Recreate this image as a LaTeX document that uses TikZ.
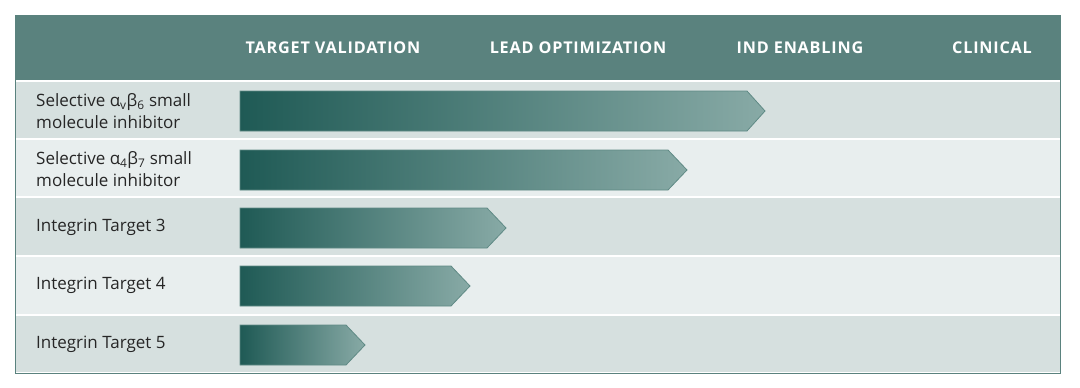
\documentclass[tikz,border=0pt]{standalone}
\usepackage{fontspec}
\setmainfont{Open Sans}
\newfontfamily\headfont{Open Sans}[UprightFont=* Bold,LetterSpace=5]
\begin{document}
\begin{tikzpicture}[x=1pt,y=-1pt,
  rowA/.style={fill=rowdark,draw=none},
  rowB/.style={fill=rowlight,draw=none},
  lbl/.style={anchor=west,align=left,font=\fontsize{17}{22}\selectfont,text=black!85,inner sep=0pt},
  hdr/.style={font=\headfont\fontsize{16.2}{18}\selectfont,text=white,inner sep=0pt},
  bar/.style={left color=bardark,right color=barlight,draw=barline,line width=0.8pt}]
\definecolor{hdrcol}{HTML}{5A827E}
\definecolor{rowdark}{HTML}{D6E0DF}
\definecolor{rowlight}{HTML}{E8EEEE}
\definecolor{bardark}{HTML}{1F5A55}
\definecolor{barlight}{HTML}{88AAA6}
\definecolor{barline}{HTML}{5F8A85}
\useasboundingbox (0,0) rectangle (1080,388);
\fill[white] (0,0) rectangle (1080,388);
% header
\fill[hdrcol] (15,15) rectangle (1060,80);
% rows
\fill[rowA] (15,82) rectangle (1060,138);
\fill[rowB] (15,140) rectangle (1060,196);
\fill[rowA] (15,198) rectangle (1060,255);
\fill[rowB] (15,257) rectangle (1060,314);
\fill[rowA] (15,316) rectangle (1060,372);
\draw[hdrcol,line width=1pt] (15,15) rectangle (1060,373);
% header labels
\node[hdr] (h1) at (333,48) {TARGET VALIDATION};
\node[hdr] (h2) at (578,48) {LEAD OPTIMIZATION};
\node[hdr] (h3) at (800,48) {IND ENABLING};
\node[hdr] (h4) at (992,48) {CLINICAL};
% row labels
\node[lbl] (r1) at (36,111) {Selective α\textsubscript{v}β\textsubscript{6} small\\molecule inhibitor};
\node[lbl] (r2) at (36,169) {Selective α\textsubscript{4}β\textsubscript{7} small\\molecule inhibitor};
\node[lbl] (r3) at (36,227) {Integrin Target 3};
\node[lbl] (r4) at (36,285) {Integrin Target 4};
\node[lbl] (r5) at (36,344) {Integrin Target 5};
% bars
\shade[bar] (240,91) -- (747,91) -- (765,111) -- (747,131) -- (240,131) -- cycle;
\shade[bar] (240,150) -- (668,150) -- (687,170) -- (668,190) -- (240,190) -- cycle;
\shade[bar] (240,208) -- (487,208) -- (506,228) -- (487,248) -- (240,248) -- cycle;
\shade[bar] (240,266) -- (451,266) -- (470,286) -- (451,306) -- (240,306) -- cycle;
\shade[bar] (240,325) -- (346,325) -- (365,345) -- (346,365) -- (240,365) -- cycle;
\end{tikzpicture}
\end{document}
